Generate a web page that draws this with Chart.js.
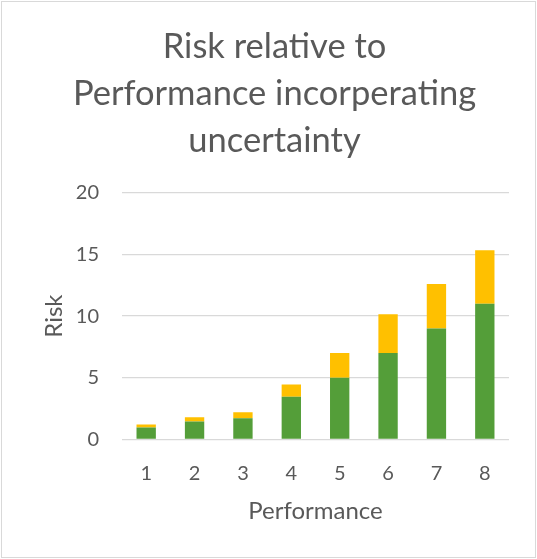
<!DOCTYPE html>
<html>
<head>
<meta charset="utf-8">
<script src="https://cdn.jsdelivr.net/npm/chart.js@4"></script>
<style>
  html, body { margin: 0; padding: 0; background: #ffffff; }
  #wrap { position: relative; width: 537px; height: 559px; }
  #frame { position: absolute; left: 1px; top: 1px; width: 533px; height: 555px; border: 1px solid #d9d9d9; pointer-events: none; }
  canvas { position: absolute; left: 0; top: 0; }
</style>
</head>
<body>
<div id="wrap">
  <canvas id="c" width="537" height="559"></canvas>
  <div id="frame"></div>
</div>
<script>
const categories = ['1', '2', '3', '4', '5', '6', '7', '8'];
const riskBase = [0.95, 1.45, 1.7, 3.45, 5, 7, 9, 11];
const riskUncertainty = [0.25, 0.35, 0.5, 1.0, 2.0, 3.15, 3.6, 4.35];
const yTicks = [0, 5, 10, 15, 20];
const titleLines = ['Risk relative to', 'Performance incorperating', 'uncertainty'];

const FONT = 'Lato, "Open Sans", sans-serif';
const TEXT = '#595959';

new Chart(document.getElementById('c'), {
  type: 'bar',
  data: {
    labels: categories,
    datasets: [
      { label: 'Risk', data: riskBase, backgroundColor: '#549E39', borderWidth: 0, categoryPercentage: 1, barPercentage: 0.4 },
      { label: 'Uncertainty', data: riskUncertainty, backgroundColor: '#FFC000', borderWidth: 0, categoryPercentage: 1, barPercentage: 0.4 }
    ]
  },
  options: {
    responsive: false,
    animation: false,
    devicePixelRatio: 1,
    layout: { padding: { left: 40, right: 28, top: 0, bottom: 30 } },
    plugins: {
      legend: { display: false },
      tooltip: { enabled: false },
      title: {
        display: true,
        text: titleLines,
        color: TEXT,
        font: { family: FONT, size: 34.5, weight: 'normal', lineHeight: 1.362 },
        padding: { top: 23, bottom: 29 }
      }
    },
    scales: {
      x: {
        stacked: true,
        grid: { display: false, drawTicks: false },
        border: { display: false },
        ticks: { color: TEXT, font: { family: FONT, size: 20 }, padding: 22 },
        title: { display: true, text: 'Performance', color: TEXT, font: { family: FONT, size: 24 }, padding: { top: 0, bottom: 3 } },
        afterFit: (s) => { s.height = 559 - 30 - 439.3; }
      },
      y: {
        stacked: true,
        min: 0,
        max: 20,
        afterBuildTicks: (s) => { s.ticks = yTicks.map(v => ({ value: v })); },
        grid: { color: '#d9d9d9', lineWidth: 1.3, drawTicks: false },
        border: { display: false },
        ticks: { color: TEXT, font: { family: FONT, size: 20 }, padding: 23 },
        title: { display: true, text: 'Risk', color: TEXT, font: { family: FONT, size: 24 }, padding: { top: 0, bottom: 0 } },
        afterFit: (s) => { s.width = 122 - 40; }
      }
    }
  },
  plugins: [{
    id: 'bg',
    beforeDraw(chart) {
      const ctx = chart.ctx;
      ctx.save();
      ctx.fillStyle = '#ffffff';
      ctx.fillRect(0, 0, chart.width, chart.height);
      ctx.restore();
    }
  }]
});
</script>
</body>
</html>
